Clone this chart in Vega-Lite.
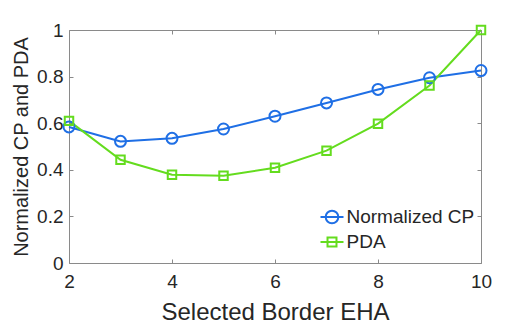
{
  "$schema": "https://vega.github.io/schema/vega-lite/v6.json",
  "width": 412,
  "height": 233,
  "autosize": {"type": "none"},
  "padding": {"left": 69, "top": 30, "right": 51, "bottom": 70},
  "background": "white",
  "config": {
    "view": {"stroke": null},
    "font": "Liberation Sans",
    "axis": {
      "domainColor": "#8a8a8a",
      "domainWidth": 1,
      "tickColor": "#8a8a8a",
      "tickWidth": 1,
      "tickSize": -4,
      "grid": false,
      "labelFlush": false,
      "labelFont": "Liberation Sans",
      "labelFontSize": 19,
      "labelColor": "#262626",
      "titleFont": "Liberation Sans",
      "titleFontWeight": "normal",
      "titleColor": "#262626"
    }
  },
  "data": {
    "values": [
      {"eha": 2, "value": 0.584, "series": "Normalized CP"},
      {"eha": 3, "value": 0.522, "series": "Normalized CP"},
      {"eha": 4, "value": 0.535, "series": "Normalized CP"},
      {"eha": 5, "value": 0.575, "series": "Normalized CP"},
      {"eha": 6, "value": 0.630, "series": "Normalized CP"},
      {"eha": 7, "value": 0.687, "series": "Normalized CP"},
      {"eha": 8, "value": 0.745, "series": "Normalized CP"},
      {"eha": 9, "value": 0.795, "series": "Normalized CP"},
      {"eha": 10, "value": 0.826, "series": "Normalized CP"},
      {"eha": 2, "value": 0.610, "series": "PDA"},
      {"eha": 3, "value": 0.443, "series": "PDA"},
      {"eha": 4, "value": 0.379, "series": "PDA"},
      {"eha": 5, "value": 0.374, "series": "PDA"},
      {"eha": 6, "value": 0.409, "series": "PDA"},
      {"eha": 7, "value": 0.482, "series": "PDA"},
      {"eha": 8, "value": 0.598, "series": "PDA"},
      {"eha": 9, "value": 0.762, "series": "PDA"},
      {"eha": 10, "value": 1.0, "series": "PDA"}
    ]
  },
  "layer": [
    {
      "mark": {"type": "line", "strokeWidth": 2},
      "encoding": {
        "x": {
          "field": "eha", "type": "quantitative",
          "scale": {"domain": [2, 10], "nice": false, "zero": false},
          "axis": {"orient": "bottom", "values": [2, 4, 6, 8, 10], "title": "Selected Border EHA",
                   "labelPadding": 13, "titleFontSize": 24, "titleBaseline": "alphabetic", "titleY": 56}
        },
        "y": {
          "field": "value", "type": "quantitative",
          "scale": {"domain": [0, 1], "nice": false},
          "axis": {"orient": "left", "values": [0, 0.2, 0.4, 0.6, 0.8, 1], "format": ".1~f", "title": "Normalized CP and PDA",
                   "labelPadding": 10, "titleFontSize": 20, "titleBaseline": "middle", "titleX": -48}
        },
        "color": {
          "field": "series", "type": "nominal",
          "scale": {"domain": ["Normalized CP", "PDA"], "range": ["#1f6fe5", "#64dc1e"]},
          "legend": null
        }
      }
    },
    {
      "mark": {"type": "point", "filled": false, "strokeWidth": 2, "size": 121, "opacity": 1},
      "encoding": {
        "x": {
          "field": "eha", "type": "quantitative",
          "scale": {"domain": [2, 10], "nice": false, "zero": false},
          "axis": {"orient": "top", "values": [2, 4, 6, 8, 10], "labels": false, "title": null}
        },
        "y": {
          "field": "value", "type": "quantitative",
          "scale": {"domain": [0, 1], "nice": false},
          "axis": {"orient": "right", "values": [0, 0.2, 0.4, 0.6, 0.8, 1], "labels": false, "title": null}
        },
        "color": {
          "field": "series", "type": "nominal",
          "scale": {"domain": ["Normalized CP", "PDA"], "range": ["#1f6fe5", "#64dc1e"]},
          "legend": null
        },
        "shape": {
          "field": "series", "type": "nominal",
          "scale": {"domain": ["Normalized CP", "PDA"], "range": ["circle", "M-0.77,-0.77H0.77V0.77H-0.77Z"]},
          "legend": null
        }
      }
    },
    {
      "transform": [{"filter": "false"}],
      "mark": {"type": "point", "filled": false, "strokeWidth": 2, "size": 529, "opacity": 1},
      "encoding": {
        "color": {
          "field": "series", "type": "nominal",
          "scale": {"domain": ["Normalized CP", "PDA"], "range": ["#1f6fe5", "#64dc1e"]},
          "legend": {
            "title": null, "orient": "none", "legendX": 250.5, "legendY": 174.5, "padding": 0,
            "labelFont": "Liberation Sans", "labelFontSize": 19, "labelColor": "#262626",
            "labelOffset": 2, "rowPadding": 2, "symbolSize": 529, "symbolStrokeWidth": 2,
            "symbolFillColor": "transparent"
          }
        },
        "shape": {
          "field": "series", "type": "nominal",
          "scale": {"domain": ["Normalized CP", "PDA"],
                    "range": ["M-1,0H1M0.55,0A0.55,0.55 0 1 1 -0.55,0A0.55,0.55 0 1 1 0.55,0",
                              "M-1,0H1M-0.39,-0.39H0.39V0.39H-0.39Z"]},
          "legend": {
            "title": null, "orient": "none", "legendX": 250.5, "legendY": 174.5, "padding": 0,
            "labelFont": "Liberation Sans", "labelFontSize": 19, "labelColor": "#262626",
            "labelOffset": 2, "rowPadding": 2, "symbolSize": 529, "symbolStrokeWidth": 2,
            "symbolFillColor": "transparent"
          }
        }
      }
    }
  ],
  "resolve": {
    "scale": {"color": "independent", "shape": "independent"},
    "axis": {"x": "independent", "y": "independent"}
  }
}
